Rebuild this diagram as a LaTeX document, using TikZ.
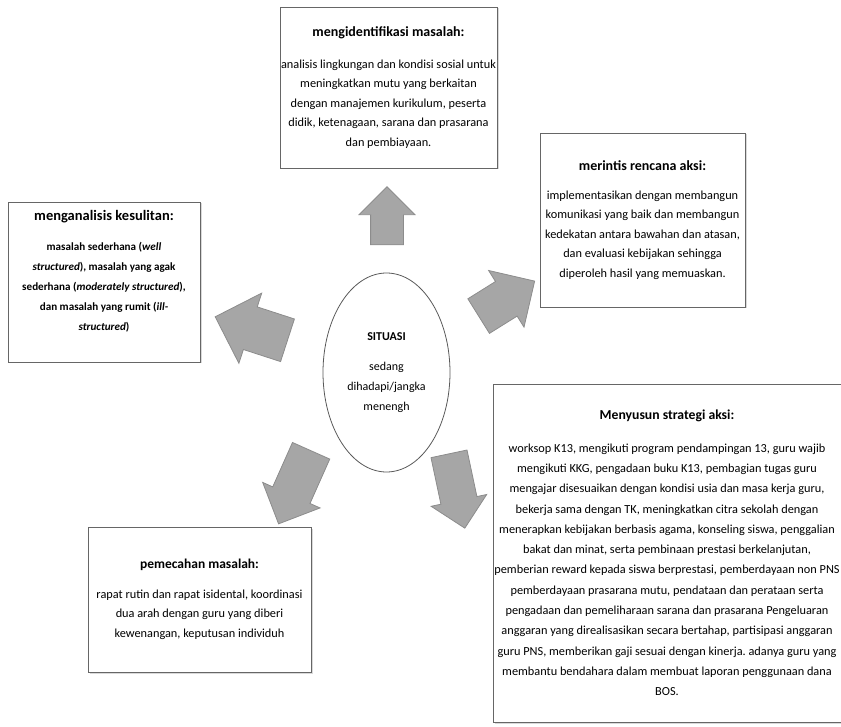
\documentclass[tikz,border=0pt]{standalone}
\usepackage{fontspec}
\setmainfont{Carlito}
\usetikzlibrary{shapes.geometric,shapes.arrows,shadows}
\frenchspacing

\begin{document}
\begin{tikzpicture}[x=1pt,y=-1pt,
    kotak/.style={draw=black!60, fill=white, line width=0.8pt, align=center,
        inner sep=0pt, font=\fontsize{12.3}{19.5}\selectfont,
        drop shadow={opacity=0.3, shadow xshift=1.5pt, shadow yshift=-1.5pt}},
    panah/.style 2 args={single arrow, draw=black!45, fill=black!35, line width=0.8pt,
        inner xsep=0pt, inner ysep=#1, single arrow head extend=#2}]
    \useasboundingbox (0,0) rectangle (841,727);

    % pusat
    \node[ellipse, draw=black!65, line width=0.8pt, minimum width=127, minimum height=199,
        inner sep=0pt, align=center, font=\fontsize{12}{20}\selectfont] (situasi) at (386.5,372.5)
        {\textbf{SITUASI}\\[10pt] sedang\\ dihadapi/jangka\\ menengh};

    % kotak-kotak
    \node[kotak, minimum width=217, minimum height=161] (identifikasi) at (388.5,87.5)
        {{\fontsize{14}{16}\selectfont\bfseries mengidentifikasi masalah:}\\[12pt]
        analisis lingkungan dan kondisi sosial untuk\\
        meningkatkan mutu yang berkaitan\\
        dengan manajemen kurikulum, peserta\\
        didik, ketenagaan, sarana dan prasarana\\
        dan pembiayaan.};

    \node[kotak, minimum width=205, minimum height=174] (rencana) at (642.5,220)
        {{\fontsize{14}{16}\selectfont\bfseries merintis rencana aksi:}\\[9pt]
        implementasikan dengan membangun\\
        komunikasi yang baik dan membangun\\
        kedekatan antara bawahan dan atasan,\\
        dan evaluasi kebijakan sehingga\\
        diperoleh hasil yang memuaskan.};

    \node[kotak, minimum width=192, minimum height=160, font=\fontsize{11.1}{20}\selectfont\bfseries]
        (kesulitan) at (104,282)
        {{\fontsize{14.5}{16}\selectfont menganalisis kesulitan:}\\[10pt]
        masalah sederhana (\textit{well}\\
        \textit{structured}), masalah yang agak\\
        sederhana (\textit{moderately structured}),\\
        dan masalah yang rumit (\textit{ill-}\\
        \textit{structured})\\[4pt]};

    \node[kotak, minimum width=348, minimum height=338, font=\fontsize{12.3}{20.3}\selectfont]
        (strategi) at (667,553)
        {{\fontsize{13.7}{15}\selectfont\bfseries Menyusun strategi aksi:}\\[12pt]
        worksop K13, mengikuti program pendampingan 13, guru wajib\\
        mengikuti KKG, pengadaan buku K13, pembagian tugas guru\\
        mengajar disesuaikan dengan kondisi usia dan masa kerja guru,\\
        bekerja sama dengan TK, meningkatkan citra sekolah dengan\\
        menerapkan kebijakan berbasis agama, konseling siswa, penggalian\\
        bakat dan minat, serta pembinaan prestasi berkelanjutan,\\
        pemberian reward kepada siswa berprestasi, pemberdayaan non PNS\\
        pemberdayaan prasarana mutu, pendataan dan perataan serta\\
        pengadaan dan pemeliharaan sarana dan prasarana Pengeluaran\\
        anggaran yang direalisasikan secara bertahap, partisipasi anggaran\\
        guru PNS, memberikan gaji sesuai dengan kinerja. adanya guru yang\\
        membantu bendahara dalam membuat laporan penggunaan dana\\
        BOS.};

    \node[kotak, minimum width=223, minimum height=145] (pemecahan) at (199.5,599.5)
        {{\fontsize{13.5}{16}\selectfont\bfseries pemecahan masalah:}\\[10pt]
        rapat rutin dan rapat isidental, koordinasi\\
        dua arah dengan guru yang diberi\\
        kewenangan, keputusan individuh};

    % panah blok
    \node[panah={16}{11.5}, minimum height=58, rotate=90] (p1) at (387,224) {};
    \node[panah={22}{14.5}, minimum height=76, rotate=162] (p2) at (262,332) {};
    \node[panah={20}{13}, minimum height=66, rotate=32] (p3) at (498,304) {};
    \node[panah={20}{11}, minimum height=80, rotate=-114] (p4) at (299,478) {};
    \node[panah={18}{10}, minimum height=76, rotate=-78] (p5) at (455,482) {};
\end{tikzpicture}
\end{document}
